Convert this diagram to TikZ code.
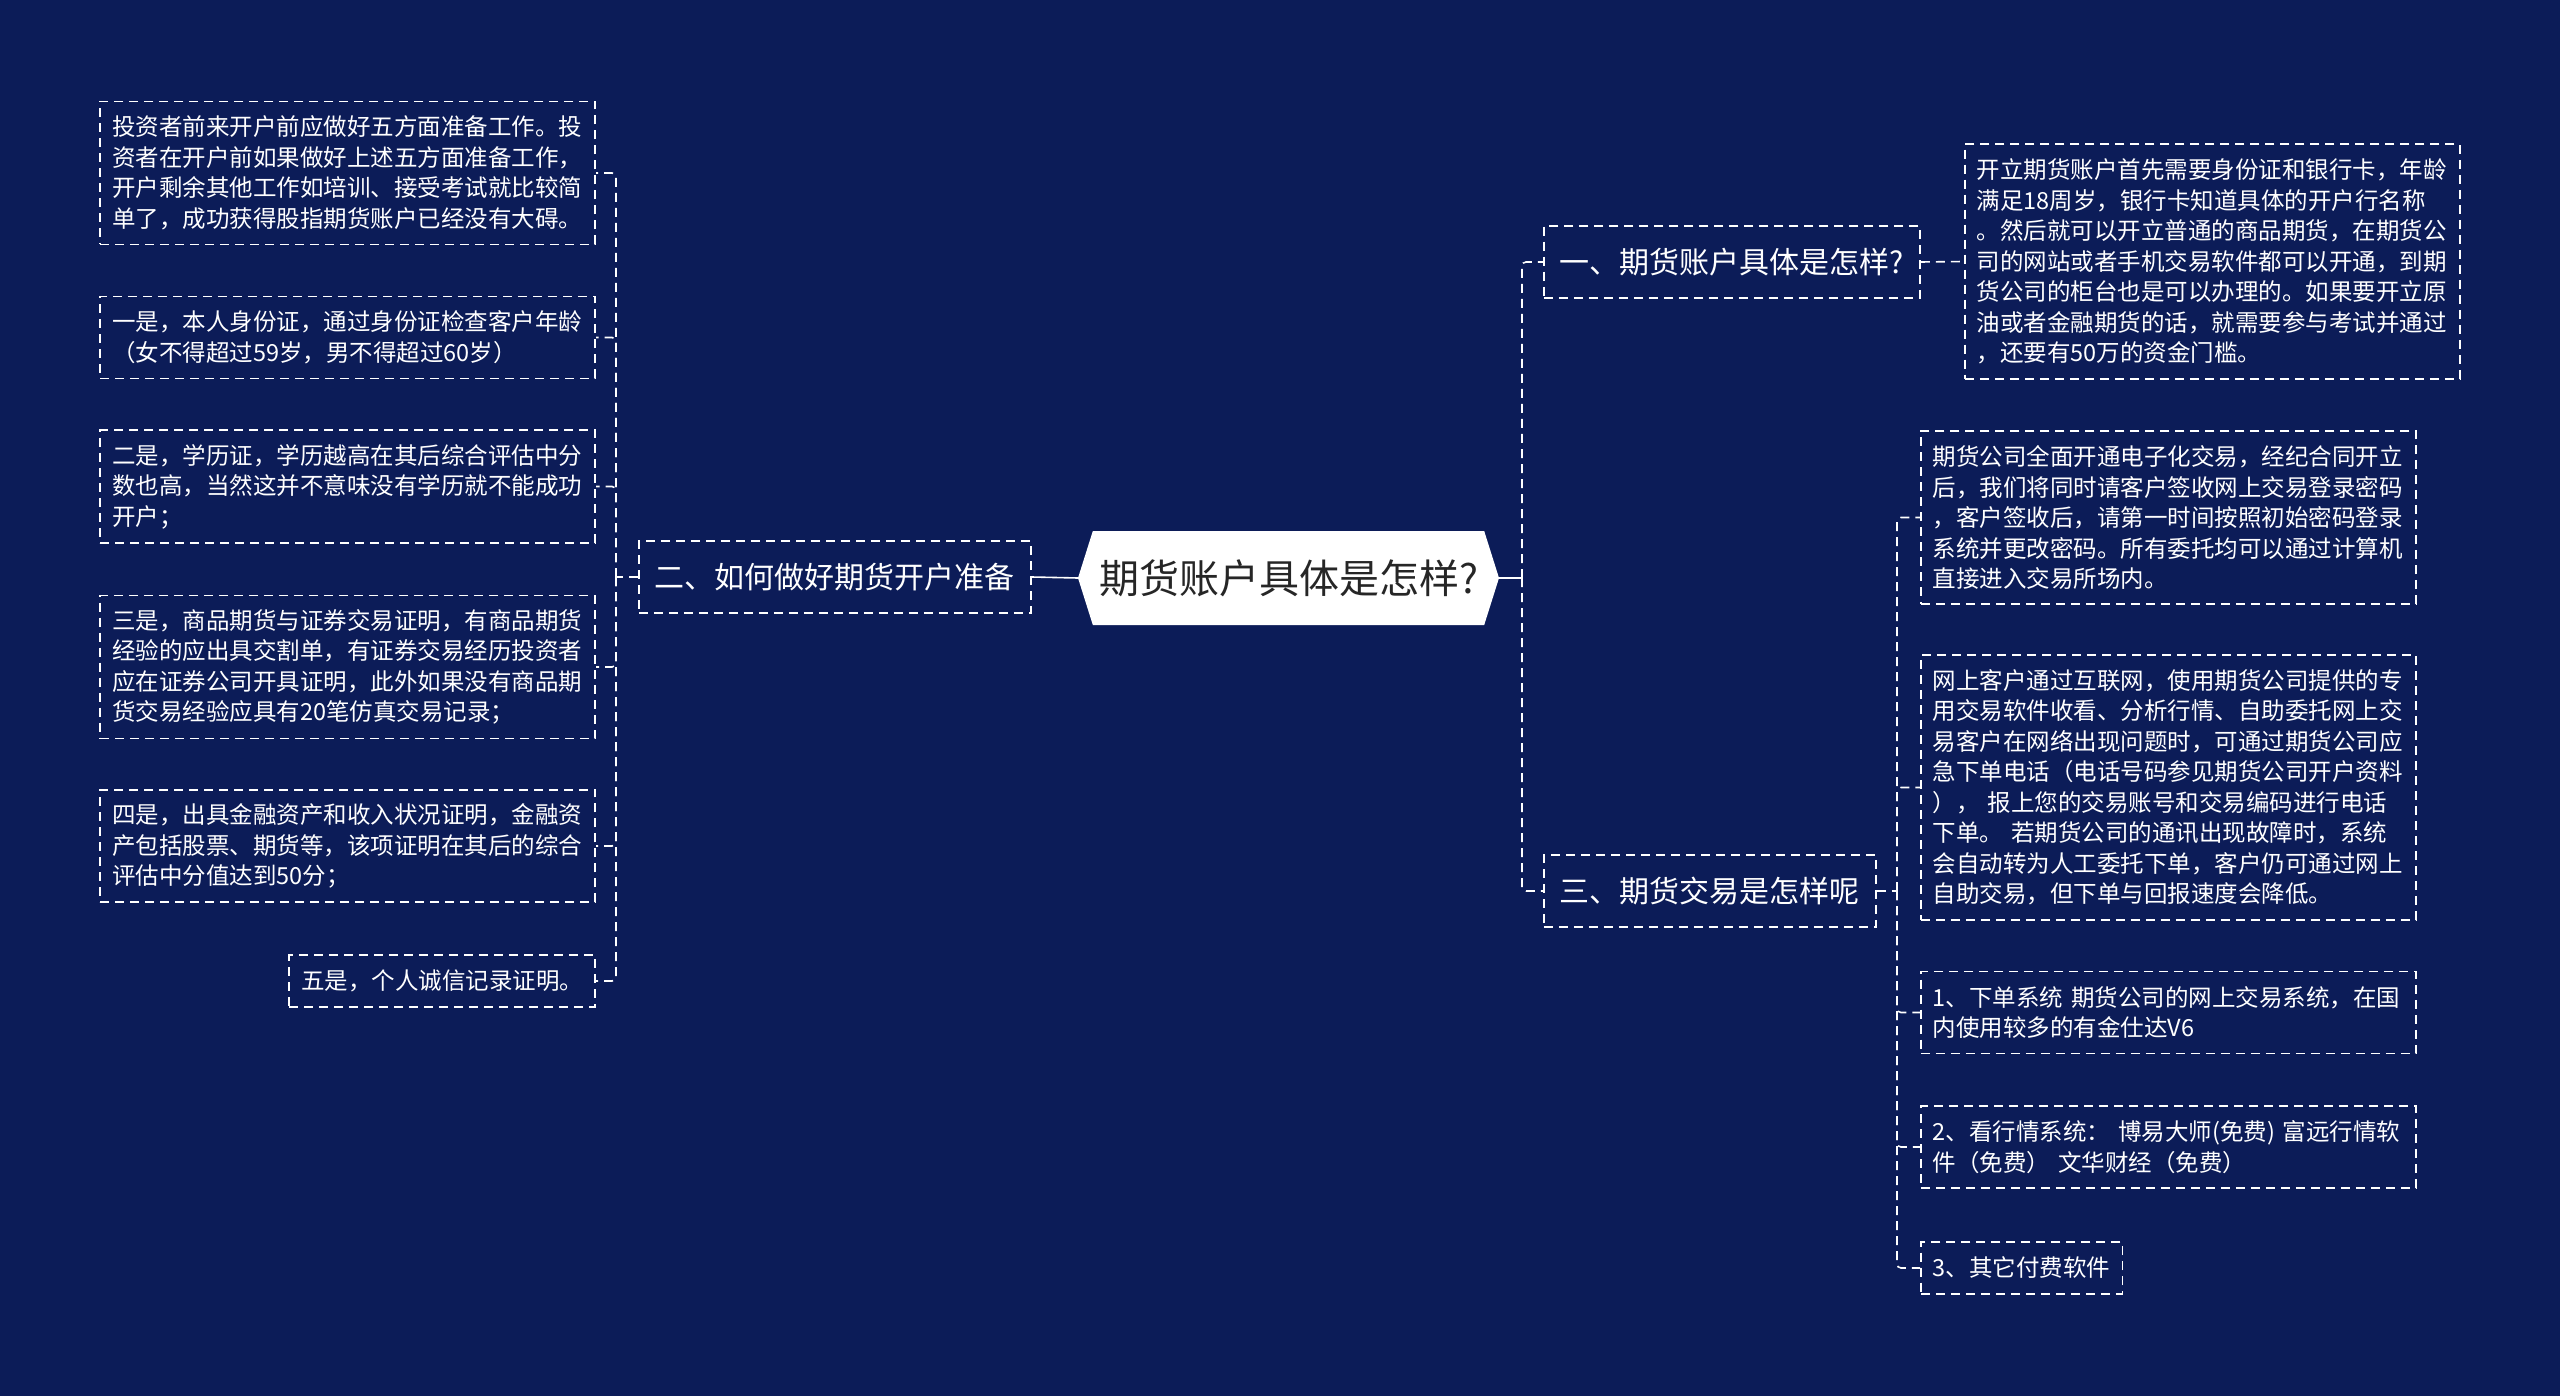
\documentclass[tikz,border=0pt]{standalone}
\usepackage{fontspec}
\setmainfont{Noto Sans CJK SC}
\usepackage{tikz}
\usetikzlibrary{shapes,arrows,positioning}
\definecolor{navy}{RGB}{12,28,88}

\begin{document}
\begin{tikzpicture}[x=1pt, y=-1pt,
  leaf/.style={rectangle, draw=white, dash pattern=on 9pt off 6pt, line width=1.6pt, text=white, align=left, inner xsep=12pt, inner ysep=0pt, minimum height={21pt+30.5pt*#1}, font=\fontsize{23.5}{30.5}\selectfont},
  wide/.style={text width=471pt},
  branch/.style={rectangle, draw=white, dash pattern=on 9pt off 6pt, line width=1.6pt, text=white, inner xsep=16pt, minimum height=72pt, font=\fontsize{30}{36}\selectfont},
  hub/.style={signal, signal to=west and east, signal pointer angle=145, fill=white, text=black!85, inner sep=0pt, minimum height=94pt, minimum width=421pt, font=\fontsize{40}{48}\selectfont},
  link/.style={white, dash pattern=on 9pt off 6pt, line width=1.6pt, rounded corners=4pt}]
\fill[navy] (0,0) rectangle (2560,1396);
\node[hub] (c) at (1288.5,578) {期货账户具体是怎样?};
\node[branch, anchor=west] (b1) at (1543,262) {一、期货账户具体是怎样?};
\node[branch, anchor=west] (b2) at (638,577) {二、如何做好期货开户准备};
\node[branch, anchor=west] (b3) at (1543,891) {三、期货交易是怎样呢};
% left side
\node[leaf=4, wide, anchor=east] (l1) at (596,173) {投资者前来开户前应做好五方面准备工作。投\\资者在开户前如果做好上述五方面准备工作，\\开户剩余其他工作如培训、接受考试就比较简\\单了，成功获得股指期货账户已经没有大碍。};
\node[leaf=2, wide, anchor=east] (l2) at (596,337.5) {一是，本人身份证，通过身份证检查客户年龄\\（女不得超过59岁，男不得超过60岁）};
\node[leaf=3, wide, anchor=east] (l3) at (596,486.5) {二是，学历证，学历越高在其后综合评估中分\\数也高，当然这并不意味没有学历就不能成功\\开户；};
\node[leaf=4, wide, anchor=east] (l4) at (596,667) {三是，商品期货与证券交易证明，有商品期货\\经验的应出具交割单，有证券交易经历投资者\\应在证券公司开具证明，此外如果没有商品期\\货交易经验应具有20笔仿真交易记录；};
\node[leaf=3, wide, anchor=east] (l5) at (596,846) {四是，出具金融资产和收入状况证明，金融资\\产包括股票、期货等，该项证明在其后的综合\\评估中分值达到50分；};
\node[leaf=1, anchor=east] (l6) at (596,981) {五是，个人诚信记录证明。};
% right side
\node[leaf=7, wide, anchor=west] (r1) at (1964,261.5) {开立期货账户首先需要身份证和银行卡，年龄\\满足18周岁，银行卡知道具体的开户行名称\\。然后就可以开立普通的商品期货，在期货公\\司的网站或者手机交易软件都可以开通，到期\\货公司的柜台也是可以办理的。如果要开立原\\油或者金融期货的话，就需要参与考试并通过\\，还要有50万的资金门槛。};
\node[leaf=5, wide, anchor=west] (r2) at (1920,517.5) {期货公司全面开通电子化交易，经纪合同开立\\后，我们将同时请客户签收网上交易登录密码\\，客户签收后，请第一时间按照初始密码登录\\系统并更改密码。所有委托均可以通过计算机\\直接进入交易所场内。};
\node[leaf=8, wide, anchor=west] (r3) at (1920,787.5) {网上客户通过互联网，使用期货公司提供的专\\用交易软件收看、分析行情、自助委托网上交\\易客户在网络出现问题时，可通过期货公司应\\急下单电话（电话号码参见期货公司开户资料\\）， 报上您的交易账号和交易编码进行电话\\下单。 若期货公司的通讯出现故障时，系统\\会自动转为人工委托下单，客户仍可通过网上\\自助交易，但下单与回报速度会降低。};
\node[leaf=2, wide, anchor=west] (r4) at (1920,1012.5) {1、下单系统 期货公司的网上交易系统，在国\\内使用较多的有金仕达V6};
\node[leaf=2, wide, anchor=west] (r5) at (1920,1147) {2、看行情系统： 博易大师(免费) 富远行情软\\件（免费） 文华财经（免费）};
\node[leaf=1, anchor=west] (r6) at (1920,1268) {3、其它付费软件};
\coordinate (cl) at (616,577);
\coordinate (cr) at (1522,578);
\coordinate (cb) at (1897,891);
\draw[white, line width=1.6pt] (c.west) -- (b2.east);
\draw[white, line width=1.6pt] (c.east) -- (cr);
\draw[link] (cr) |- (b1.west); \draw[link] (cr) |- (b3.west);
\draw[link] (b2.west) -- (cl);
\foreach \n in {l1,l2,l3,l4,l5,l6} \draw[link] (cl) |- (\n.east);
\draw[link] (b1.east) -- (r1.west);
\draw[link] (b3.east) -- (cb);
\foreach \n in {r2,r3,r4,r5,r6} \draw[link] (cb) |- (\n.west);
\end{tikzpicture}
\end{document}
